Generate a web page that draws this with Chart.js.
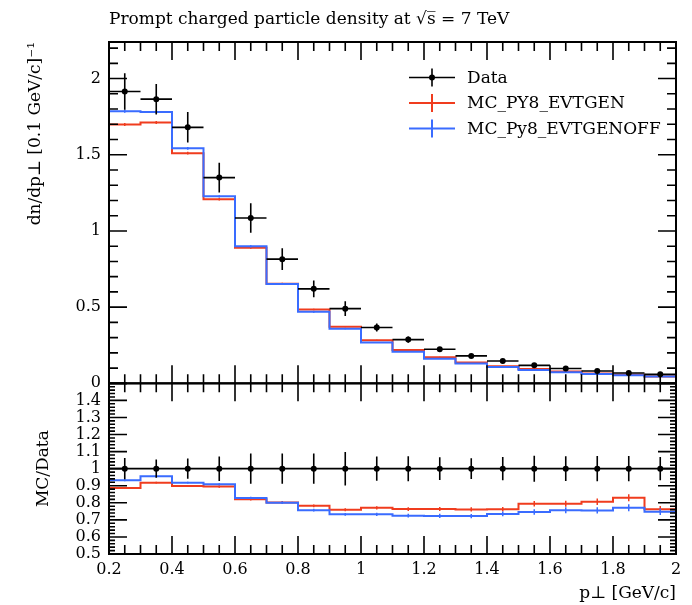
<!DOCTYPE html>
<html>
<head>
<meta charset="utf-8">
<script src="https://cdn.jsdelivr.net/npm/chart.js@4.4.0/dist/chart.umd.min.js"></script>
<style>
  html, body { margin: 0; padding: 0; background: #fff; }
</style>
</head>
<body>
<canvas id="plot" width="692" height="605"></canvas>
<script>
// bins of p_T, 0.1 GeV/c wide
const binLow  = [0.2, 0.3, 0.4, 0.5, 0.6, 0.7, 0.8, 0.9, 1.0, 1.1, 1.2, 1.3, 1.4, 1.5, 1.6, 1.7, 1.8, 1.9];
const binMid  = [0.25, 0.35, 0.45, 0.55, 0.65, 0.75, 0.85, 0.95, 1.05, 1.15, 1.25, 1.35, 1.45, 1.55, 1.65, 1.75, 1.85, 1.95];
const binHigh = 2.0;

// measured density and its uncertainty
const dataVal = [1.915, 1.865, 1.68, 1.35, 1.085, 0.815, 0.62, 0.49, 0.366, 0.287, 0.224, 0.18, 0.147, 0.118, 0.097, 0.081, 0.068, 0.059];
const dataErr = [0.12, 0.10, 0.10, 0.097, 0.096, 0.072, 0.055, 0.048, 0.026, 0.021, 0.015, 0.011, 0.010, 0.009, 0.007, 0.006, 0.005, 0.004];

// MC_PY8_EVTGEN
const py8Val = [1.699, 1.712, 1.510, 1.208, 0.890, 0.654, 0.485, 0.372, 0.282, 0.219, 0.171, 0.137, 0.112, 0.0937, 0.0770, 0.0653, 0.0564, 0.0450];
const py8Err = [0.010, 0.010, 0.009, 0.008, 0.007, 0.006, 0.005, 0.004, 0.0035, 0.003, 0.0027, 0.0023, 0.002, 0.0019, 0.0017, 0.0015, 0.0014, 0.0011];

// MC_Py8_EVTGENOFF
const offVal = [1.785, 1.781, 1.542, 1.227, 0.899, 0.652, 0.469, 0.359, 0.268, 0.208, 0.162, 0.130, 0.108, 0.088, 0.0733, 0.0612, 0.0524, 0.0441];
const offErr = [0.010, 0.010, 0.009, 0.008, 0.007, 0.006, 0.005, 0.004, 0.0035, 0.003, 0.0027, 0.0023, 0.002, 0.0019, 0.0017, 0.0015, 0.0014, 0.0011];

const xTicks     = [0.2, 0.4, 0.6, 0.8, 1, 1.2, 1.4, 1.6, 1.8, 2];
const yTicks     = [0, 0.5, 1, 1.5, 2];
const ratioTicks = [0.5, 0.6, 0.7, 0.8, 0.9, 1, 1.1, 1.2, 1.3, 1.4];

const legendLabels = ['Data', 'MC_PY8_EVTGEN', 'MC_Py8_EVTGENOFF'];

const RED = '#f03c1e';
const BLUE = '#3a6cff';
const SERIF = '"DejaVu Serif", "Liberation Serif", serif';

// histogram outline: one point per lower edge plus the closing edge
function steps(vals) {
  const pts = binLow.map((x, i) => ({ x: x, y: vals[i] }));
  pts.push({ x: binHigh, y: vals[vals.length - 1] });
  return pts;
}

// vertical error ticks, optional horizontal bin bars, separated by gaps
function bars(vals, errs, withX) {
  const pts = [];
  binMid.forEach((x, i) => {
    if (withX) {
      pts.push({ x: binLow[i], y: vals[i] }, { x: binLow[i] + 0.1, y: vals[i] }, { x: x, y: null });
    }
    pts.push({ x: x, y: vals[i] - errs[i] }, { x: x, y: vals[i] + errs[i] }, { x: x, y: null });
  });
  return pts;
}

const ratioData = dataVal.map(() => 1);
const ratioDataErr = dataErr.map((e, i) => e / dataVal[i]);
const ratioPy8 = py8Val.map((v, i) => v / dataVal[i]);
const ratioPy8Err = py8Err.map((e, i) => e / dataVal[i]);
const ratioOff = offVal.map((v, i) => v / dataVal[i]);
const ratioOffErr = offErr.map((e, i) => e / dataVal[i]);

function lineSet(data, color, axis, width, order, stepped) {
  return {
    type: 'line', data: data, yAxisID: axis, borderColor: color, borderWidth: width,
    pointRadius: 0, spanGaps: false, stepped: stepped || false, fill: false, order: order
  };
}
function pointSet(ys, axis) {
  return {
    type: 'scatter', data: binMid.map((x, i) => ({ x: x, y: ys[i] })), yAxisID: axis,
    pointRadius: 3, pointBackgroundColor: '#000', pointBorderWidth: 0, order: 0
  };
}

// inward ticks on every side of both panels, then the frames
const framePlugin = {
  id: 'frame',
  afterDraw(chart) {
    const ctx = chart.ctx;
    const xs = chart.scales.x;
    const panels = [
      { s: chart.scales.y, minor: 0.1, major: 0.5, minLen: 9, majLen: 18 },
      { s: chart.scales.yr, minor: 0.02, major: 0.1, minLen: 6, majLen: 18 }
    ];
    const isMul = (v, step) => Math.abs(v / step - Math.round(v / step)) < 1e-6;
    ctx.save();
    ctx.strokeStyle = '#000';
    panels.forEach(p => {
      const top = p.s.top, bot = p.s.bottom, l = xs.left, r = xs.right;
      ctx.lineWidth = 1.6;
      ctx.beginPath();
      for (let i = 0; ; i++) {
        const v = xs.min + i * 0.05;
        if (v > xs.max + 1e-9) break;
        const px = xs.getPixelForValue(v);
        const len = isMul(v, 0.2) ? 18 : 9;
        ctx.moveTo(px, top); ctx.lineTo(px, top + len);
        ctx.moveTo(px, bot); ctx.lineTo(px, bot - len);
      }
      for (let i = 0; ; i++) {
        const v = p.s.min + i * p.minor;
        if (v > p.s.max + 1e-9) break;
        const py = p.s.getPixelForValue(v);
        const len = isMul(v, p.major) ? p.majLen : p.minLen;
        ctx.moveTo(l, py); ctx.lineTo(l + len, py);
        ctx.moveTo(r, py); ctx.lineTo(r - len, py);
      }
      ctx.stroke();
      ctx.lineWidth = 2;
      ctx.strokeRect(l, top, r - l, bot - top);
    });
    ctx.restore();
  }
};

// legend in the upper right of the main panel
const legendPlugin = {
  id: 'histLegend',
  afterDraw(chart) {
    const ctx = chart.ctx;
    const colors = ['#000', RED, BLUE];
    const x0 = 409, x1 = 455, tx = 467;
    ctx.save();
    ctx.font = '17px ' + SERIF;
    ctx.textBaseline = 'middle';
    legendLabels.forEach((label, i) => {
      const y = 77.5 + i * 25.5;
      const xm = (x0 + x1) / 2;
      ctx.strokeStyle = colors[i];
      ctx.lineWidth = i === 0 ? 1.6 : 2;
      ctx.beginPath();
      ctx.moveTo(x0, y); ctx.lineTo(x1, y);
      ctx.moveTo(xm, y - 9); ctx.lineTo(xm, y + 9);
      ctx.stroke();
      if (i === 0) {
        ctx.beginPath(); ctx.arc(xm, y, 3, 0, Math.PI * 2); ctx.fillStyle = '#000'; ctx.fill();
      }
      ctx.fillStyle = '#000';
      ctx.fillText(label, tx, y + 1);
    });
    ctx.restore();
  }
};

const fmt = v => String(+v.toFixed(2));
const tickFont = { family: SERIF, size: 16 };

new Chart(document.getElementById('plot'), {
  data: {
    datasets: [
      pointSet(dataVal, 'y'),
      lineSet(bars(dataVal, dataErr, true), '#000', 'y', 1.6, 0),
      lineSet(steps(offVal), BLUE, 'y', 2, 1, true),
      lineSet(bars(offVal, offErr, false), BLUE, 'y', 1.5, 1),
      lineSet(steps(py8Val), RED, 'y', 2, 2, true),
      lineSet(bars(py8Val, py8Err, false), RED, 'y', 1.5, 2),

      pointSet(ratioData, 'yr'),
      lineSet(bars(ratioData, ratioDataErr, true), '#000', 'yr', 1.6, 0),
      lineSet(steps(ratioOff), BLUE, 'yr', 2, 1, true),
      lineSet(bars(ratioOff, ratioOffErr, false), BLUE, 'yr', 1.5, 1),
      lineSet(steps(ratioPy8), RED, 'yr', 2, 2, true),
      lineSet(bars(ratioPy8, ratioPy8Err, false), RED, 'yr', 1.5, 2)
    ]
  },
  options: {
    responsive: false,
    animation: false,
    events: [],
    layout: { padding: { left: 0, right: 16, top: 0, bottom: 0 } },
    plugins: {
      legend: { display: false },
      tooltip: { enabled: false },
      title: {
        display: true,
        fullSize: false,
        align: 'start',
        text: 'Prompt charged particle density at √s̅ = 7 TeV',
        color: '#000',
        font: { family: SERIF, size: 17, weight: 'normal' },
        padding: { top: 9, bottom: 12.6 }
      }
    },
    scales: {
      x: {
        type: 'linear', min: 0.2, max: 2.0,
        grid: { display: false, drawTicks: false },
        border: { display: false },
        afterBuildTicks: s => { s.ticks = xTicks.map(v => ({ value: v })); },
        afterFit: s => { s.height = 51; },
        ticks: { color: '#000', padding: 6, maxRotation: 0, autoSkip: false, font: tickFont, callback: fmt },
        title: {
          display: true, align: 'end', text: 'p⊥ [GeV/c]', color: '#000',
          font: { family: SERIF, size: 17 }, padding: { top: 0, bottom: 1 }
        }
      },
      // ratio panel listed first so it stacks below the main panel
      yr: {
        type: 'linear', min: 0.5, max: 1.5, position: 'left', stack: 'panels', stackWeight: 1,
        grid: { display: false, drawTicks: false },
        border: { display: false },
        afterBuildTicks: s => { s.ticks = ratioTicks.map(v => ({ value: v })); },
        afterFit: s => { s.width = 109; },
        ticks: { color: '#000', padding: 8, autoSkip: false, font: tickFont, callback: fmt },
        title: {
          display: true, align: 'center', text: 'MC/Data', color: '#000',
          font: { family: SERIF, size: 17 }, padding: { top: 33, bottom: 0 }
        }
      },
      y: {
        type: 'linear', min: 0, max: 2.24, position: 'left', stack: 'panels', stackWeight: 2,
        grid: { display: false, drawTicks: false },
        border: { display: false },
        afterBuildTicks: s => { s.ticks = yTicks.map(v => ({ value: v })); },
        afterFit: s => { s.width = 109; },
        ticks: { color: '#000', padding: 8, autoSkip: false, font: tickFont, callback: fmt },
        title: {
          display: true, align: 'end', text: 'dn/dp⊥ [0.1 GeV/c]⁻¹', color: '#000',
          font: { family: SERIF, size: 17 }, padding: { top: 25, bottom: 0 }
        }
      }
    }
  },
  plugins: [framePlugin, legendPlugin]
});
</script>
</body>
</html>
